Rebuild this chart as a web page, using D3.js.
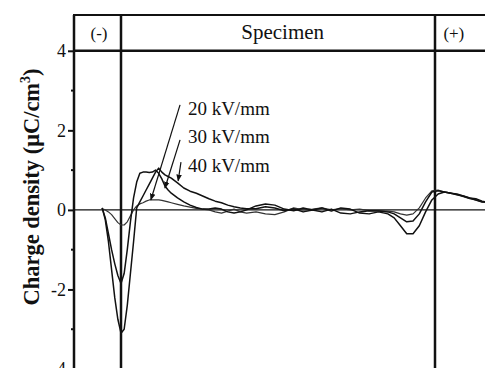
<!DOCTYPE html>
<html>
<head>
<meta charset="utf-8">
<script src="https://cdn.jsdelivr.net/npm/d3@7"></script>
<style>
  html, body { margin: 0; padding: 0; background: #fff; }
  svg { display: block; font-family: "Liberation Serif", "Times New Roman", serif; }
</style>
</head>
<body>
<div class="chart-container"></div>
<script>
// position across the sample, 0 = (-) electrode, 100 = (+) electrode
var pos = [-6,-5,-4,-3,-2,-1,0,1,2,3,4,5,6,7,8,9,10,11,12,13,14,15,16,
           18,20,22,24,26,28,30,32,34,36,38,40,
           43,46,49,52,55,58,61,64,67,70,73,76,79,82,85,
           87,89,91,93,95,97,99,101,103,105,107,109,111,113,115,117];

var rho20 = [0.03,0,-0.05,-0.12,-0.22,-0.32,-0.38,-0.38,-0.3,-0.15,0,0.1,0.15,0.18,0.22,0.25,0.25,0.25,0.25,0.24,0.22,0.2,0.18,
             0.14,0.1,0.07,0.04,0.02,0,-0.05,-0.08,-0.03,0.02,-0.05,-0.08,
             -0.05,-0.1,-0.12,-0.05,0.05,0,0.02,0.05,0,0.03,0,0.02,-0.02,-0.02,-0.03,
             -0.05,-0.1,-0.13,-0.1,0.05,0.3,0.48,0.5,0.45,0.43,0.38,0.33,0.28,0.25,0.2,0.2];

var rho30 = [0.05,-0.2,-0.6,-1.0,-1.35,-1.65,-1.85,-1.6,-1.0,-0.3,0.3,0.7,0.92,0.95,0.95,0.94,0.95,1.0,0.92,0.78,0.6,0.5,0.42,
             0.3,0.2,0.12,0.06,0.02,0.02,0.05,0.02,-0.05,-0.08,-0.05,0,
             0.1,0.15,0.12,0.02,-0.02,0.05,0,-0.05,0.02,-0.08,-0.1,-0.05,-0.02,-0.03,-0.05,
             -0.1,-0.2,-0.3,-0.28,-0.1,0.2,0.45,0.48,0.45,0.42,0.4,0.35,0.3,0.28,0.22,0.18];

var rho40 = [0.05,-0.25,-0.8,-1.5,-2.2,-2.75,-3.1,-3.0,-2.4,-1.6,-0.8,0.05,0.2,0.35,0.5,0.65,0.8,0.95,1.05,0.95,0.88,0.84,0.8,
             0.68,0.55,0.47,0.42,0.35,0.28,0.22,0.18,0.12,0.08,0.05,0.03,
             0.03,0.08,0.05,-0.02,0.03,-0.05,0,0.05,-0.03,0.05,0.02,-0.08,-0.1,-0.05,-0.1,
             -0.2,-0.4,-0.6,-0.6,-0.4,-0.05,0.25,0.4,0.45,0.42,0.38,0.35,0.3,0.25,0.2,0.2];

var fieldLabels = ["20 kV/mm", "30 kV/mm", "40 kV/mm"];
// arrows: [from pos, from rho, to pos, to rho]
var arrows = [[18.8, 2.64, 9.5, 0.25], [18.8, 1.76, 14, 0.55], [19.1, 1.2, 18.2, 0.73]];
var labelPos = [[21.3, 2.39], [21.3, 1.68], [21.3, 0.95]];

var regions = [{name: "(-)", at: -7}, {name: "Specimen", at: 51.5}, {name: "(+)", at: 106}];
var majorTicks = [-4, -2, 0, 2, 4];
var minorTicks = [-3, -1, 1, 3];

var W = 485, H = 368;
var axisX = 74;

var x = d3.scaleLinear().domain([0, 100]).range([121, 435]);
var y = d3.scaleLinear().domain([-4, 4.9]).range([369, 15]);
var xRight = x.invert(492);

var svg = d3.select(".chart-container").append("svg")
    .attr("width", W)
    .attr("height", H);

// y axis
var yAxis = d3.axisLeft(y).tickValues(majorTicks).tickSize(6).tickPadding(2).tickFormat(d3.format("d"));
var gy = svg.append("g")
    .attr("transform", "translate(" + axisX + ",0)")
    .call(yAxis);
gy.select(".domain").remove();
gy.selectAll(".tick line").attr("stroke", "#111").attr("stroke-width", 2);
gy.selectAll(".tick text")
    .attr("font-family", "Liberation Serif")
    .attr("font-size", 18)
    .attr("fill", "#111")
    .text(function(d) { return d < 0 ? "-" + Math.abs(d) : d; });

svg.append("g").selectAll("line.minor")
    .data(minorTicks).enter().append("line")
    .attr("x1", axisX - 3).attr("x2", axisX)
    .attr("y1", function(d) { return y(d); })
    .attr("y2", function(d) { return y(d); })
    .attr("stroke", "#111").attr("stroke-width", 2);

// frame
svg.append("line")
    .attr("x1", axisX).attr("x2", axisX)
    .attr("y1", y(4.9)).attr("y2", y(-4))
    .attr("stroke", "#111").attr("stroke-width", 2.5);
svg.append("line")
    .attr("x1", axisX - 1).attr("x2", x(xRight))
    .attr("y1", y(4.9)).attr("y2", y(4.9))
    .attr("stroke", "#111").attr("stroke-width", 2);
svg.append("line")
    .attr("x1", axisX).attr("x2", x(xRight))
    .attr("y1", y(4)).attr("y2", y(4))
    .attr("stroke", "#111").attr("stroke-width", 2.5);
svg.selectAll("line.electrode")
    .data([0, 100]).enter().append("line")
    .attr("x1", function(d) { return x(d); })
    .attr("x2", function(d) { return x(d); })
    .attr("y1", y(4.9)).attr("y2", y(-4))
    .attr("stroke", "#111").attr("stroke-width", 2.5);

// zero line
svg.append("line")
    .attr("x1", axisX).attr("x2", x(xRight))
    .attr("y1", y(0)).attr("y2", y(0))
    .attr("stroke", "#111").attr("stroke-width", 1.3);

// region labels
svg.selectAll("text.region")
    .data(regions).enter().append("text")
    .attr("x", function(d) { return x(d.at); })
    .attr("y", 39)
    .attr("text-anchor", "middle")
    .attr("font-size", function(d) { return d.name == "Specimen" ? 21 : 17; })
    .attr("fill", "#111")
    .text(function(d) { return d.name; });

// curves
var line = d3.line()
    .x(function(d) { return x(d[0]); })
    .y(function(d) { return y(d[1]); })
    .curve(d3.curveLinear);

var series = [rho20, rho30, rho40];
svg.selectAll("path.curve")
    .data(series).enter().append("path")
    .attr("d", function(s) { return line(pos.map(function(p, i) { return [p, s[i]]; })); })
    .attr("fill", "none")
    .attr("stroke", function(s, i) { return i == 0 ? "#333" : "#111"; })
    .attr("stroke-width", function(s, i) { return i == 0 ? 1.2 : 1.5; })
    .attr("stroke-linejoin", "round");

// arrows
svg.append("defs").append("marker")
    .attr("id", "head")
    .attr("viewBox", "0 0 10 10")
    .attr("refX", 9).attr("refY", 5)
    .attr("markerWidth", 7).attr("markerHeight", 7)
    .attr("markerUnits", "userSpaceOnUse")
    .attr("orient", "auto")
  .append("path")
    .attr("d", "M0,1 L10,5 L0,9 Z")
    .attr("fill", "#111");

svg.selectAll("line.arrow")
    .data(arrows).enter().append("line")
    .attr("x1", function(d) { return x(d[0]); })
    .attr("y1", function(d) { return y(d[1]); })
    .attr("x2", function(d) { return x(d[2]); })
    .attr("y2", function(d) { return y(d[3]); })
    .attr("stroke", "#111").attr("stroke-width", 1.2)
    .attr("marker-end", "url(#head)");

svg.selectAll("text.field")
    .data(fieldLabels).enter().append("text")
    .attr("x", function(d, i) { return x(labelPos[i][0]); })
    .attr("y", function(d, i) { return y(labelPos[i][1]); })
    .attr("font-size", 19)
    .attr("fill", "#111")
    .text(function(d) { return d; });

// y label
var yl = svg.append("text")
    .attr("transform", "translate(39,187) rotate(-90)")
    .attr("text-anchor", "middle")
    .attr("font-size", 22.5)
    .attr("font-weight", "bold")
    .attr("fill", "#111");
yl.append("tspan").text("Charge density (\u03bcC/cm");
yl.append("tspan").attr("font-size", 14).attr("dy", -9).text("3");
yl.append("tspan").attr("dy", 9).text(")");
</script>
</body>
</html>
